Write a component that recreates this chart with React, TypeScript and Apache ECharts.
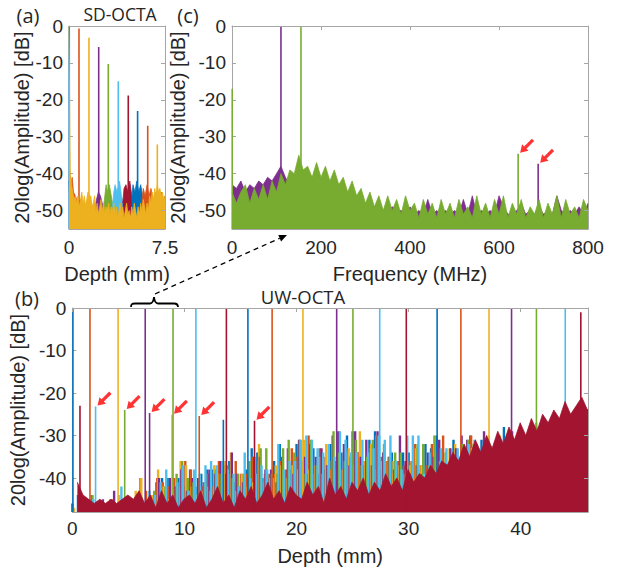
import React, { useEffect, useRef } from "react";
import * as echarts from "echarts";

// ---------- colours (MATLAB default order) ----------
const COL: Record<string, string> = {
  blue: "#0072BD",
  orange: "#D95319",
  yellow: "#EDB120",
  purple: "#7E2F8E",
  green: "#77AC30",
  lightBlue: "#4DBEEE",
  darkRed: "#A2142F",
};
const ORDER = ["blue", "orange", "yellow", "purple", "green", "lightBlue", "darkRed"];

// ---------- panel (a): SD-OCTA ----------
const aXTicks = [0, 7.5];
const aYTicks = [-50, -40, -30, -20, -10, 0];
const aTraceColors = ["blue", "orange", "yellow", "purple", "green", "lightBlue", "darkRed", "blue", "orange", "yellow"];
const aPeakDepth = [0.02, 0.78, 1.56, 2.32, 3.07, 3.85, 4.63, 5.36, 6.15, 6.9];
const aPeakDb = [0, -0.7, -3.2, -5.7, -10.3, -15, -18.8, -23, -27, -32.1];
const aNoiseBlue1 = [[0, -42], [0.05, -46], [0.1, -49], [0.2, -52], [0.3, -55]];
const aNoiseOrange1 = [[0.05, -39], [0.15, -43], [0.25, -41], [0.35, -45], [0.5, -46], [0.7, -48], [0.9, -47], [1.1, -50], [1.3, -55]];
const aNoiseYellow1 = [[1.2, -50], [1.4, -47], [1.5, -45], [1.7, -47], [1.9, -50]];
const aNoisePurple = [[2.0, -50], [2.15, -47], [2.3, -45], [2.45, -46], [2.6, -48], [2.8, -51]];
const aNoiseGreen = [[2.7, -49], [2.8, -46], [2.9, -43], [3.0, -45], [3.15, -43], [3.3, -46], [3.45, -49]];
const aNoiseLightBlue = [[3.4, -49], [3.5, -45], [3.6, -43], [3.75, -45], [3.95, -42], [4.1, -46], [4.3, -49]];
const aNoiseDarkRed = [[4.2, -48], [4.3, -44], [4.45, -43], [4.6, -45], [4.75, -42], [4.9, -46], [5.1, -49]];
const aNoiseBlue2 = [[4.9, -47], [5.0, -43], [5.15, -45], [5.3, -42], [5.45, -45], [5.6, -43], [5.8, -47], [6.0, -50]];
const aNoiseOrange2 = [[5.7, -48], [5.8, -44], [5.95, -46], [6.1, -43], [6.25, -46], [6.4, -44], [6.6, -47], [6.8, -45], [7.0, -48], [7.2, -45], [7.35, -47], [7.5, -46]];
const aGridStep = 0.1;
const aNoiseYellow2Db = [
  0, -40, -43, -45, -47, -46, -48, -46, -49, -47,
  -45, -48, -46, -49, -47, -45, -48, -46, -49, -48,
  -46, -50, -48, -51, -49, -47, -50, -48, -51, -49,
  -50, -48, -51, -49, -50, -48, -51, -49, -52, -50,
  -48, -51, -49, -52, -50, -48, -51, -50, -52, -49,
  -51, -48, -50, -52, -49, -51, -48, -50, -47, -49,
  -51, -48, -50, -46, -48, -45, -47, -44, -46, -43,
  -45, -44, -46, -45, -47, -46,
];

// ---------- panel (c): spectrum ----------
const cXTicks = [0, 200, 400, 600, 800];
const cFreqStep = 10;
const cNoisePurple = [
  -43, -44, -42, -45, -43, -44, -42, -43, -41, -42,
  -40, -38, -41, -43, -42, -40, -41, -43, -42, -44,
  -43, -45, -44, -46, -45, -47, -46, -48, -47, -49,
  -48, -50, -49, -48, -50, -50, -49, -50, -50, -51,
  -49, -51, -50, -51, -47, -51, -50, -51, -50, -51,
  -50, -51, -47, -51, -46, -51, -50, -51, -50, -51,
  -46, -49, -51, -51, -50, -48, -51, -50, -51, -49,
  -51, -50, -51, -46, -50, -51, -50, -51, -49, -51,
  -48,
];
const cNoiseGreen = [
  -45, -48, -45, -43, -48, -44, -47, -43, -47, -42,
  -45, -40, -43, -39, -40, -35, -39, -38, -41, -37,
  -41, -38, -42, -39, -43, -41, -45, -42, -46, -44,
  -48, -45, -49, -46, -50, -46, -50, -47, -51, -46,
  -50, -48, -52, -47, -51, -48, -52, -47, -51, -48,
  -52, -47, -51, -49, -52, -46, -51, -48, -52, -47,
  -51, -46, -52, -48, -51, -47, -52, -49, -51, -47,
  -52, -48, -51, -46, -52, -47, -51, -49, -52, -47,
  -50,
];
const cPeakFreq = [0.5, 110, 155, 643, 688];
const cPeakDb = [-17, 0, 0, -34.6, -37.3];
const cPeakColor = ["green", "purple", "green", "green", "purple"];
const cPeakArrow = [false, false, false, true, true];

// ---------- panel (b): UW-OCTA ----------
const bXTicks = [0, 10, 20, 30, 40];
const bYTicks = [-40, -30, -20, -10, 0];
const bDepthMax = 46;
const bDepthStep = 0.5;
const bNoiseBlue = [
  -46, -44, -48, -45, -48, -48, -46, -48, -47, -45, -46, -48, -48, -46, -48, -41, -40, -40, -45, -40,
  -42, -38, -42, -39, -38, -38, -43, -37, -36, -41, -42, -38, -33, -34, -40, -40, -36, -32, -40, -38,
  -32, -36, -39, -33, -39, -38, -32, -36, -34, -30, -29, -34, -37, -31, -29, -38, -37, -34, -39, -34,
  -34, -35, -39, -32, -33, -30, -37, -38, -31, -36, -34, -30, -35, -31, -37, -35, -30, -28, -36, -37,
  -37, -36, -33, -29, -35, -27, -30, -31, -35, -29, -31, -29, -30,
];
const bNoiseOrange = [
  -48, -44, -48, -46, -48, -46, -48, -45, -48, -46, -46, -48, -40, -43, -44, -40, -41, -42, -40, -42,
  -36, -38, -44, -42, -39, -42, -36, -37, -39, -36, -39, -39, -35, -36, -41, -39, -39, -36, -38, -33,
  -35, -37, -30, -39, -33, -35, -38, -38, -38, -34, -38, -34, -36, -33, -38, -35, -36, -39, -36, -37,
  -36, -32, -37, -37, -32, -34, -30, -37, -36, -36, -33, -30, -32, -34, -32, -34, -32, -35, -33, -37,
  -32, -33, -34, -28, -30, -35, -29, -28, -34, -35, -31, -28, -31,
];
const bNoiseYellow = [
  -47, -44, -48, -46, -46, -48, -48, -48, -44, -45, -48, -43, -40, -48, -44, -38, -42, -45, -45, -36,
  -37, -42, -44, -43, -42, -37, -39, -36, -34, -43, -39, -42, -41, -32, -39, -40, -37, -37, -40, -37,
  -38, -31, -38, -37, -35, -32, -36, -35, -38, -33, -37, -29, -36, -32, -30, -36, -36, -36, -37, -39,
  -37, -33, -37, -39, -39, -35, -37, -33, -32, -37, -35, -33, -34, -36, -30, -33, -30, -33, -32, -31,
  -35, -36, -33, -29, -30, -34, -33, -32, -35, -27, -31, -27, -30,
];
const bNoisePurple = [
  -48, -46, -46, -44, -48, -45, -48, -43, -48, -47, -47, -48, -48, -46, -46, -40, -47, -40, -42, -38,
  -43, -40, -40, -41, -38, -39, -36, -39, -34, -39, -41, -40, -35, -35, -38, -38, -41, -35, -33, -39,
  -31, -35, -32, -35, -33, -37, -30, -29, -32, -37, -29, -35, -31, -37, -29, -34, -35, -38, -30, -36,
  -39, -37, -39, -34, -35, -31, -39, -33, -33, -30, -31, -36, -38, -29, -37, -37, -34, -31, -29, -34,
  -30, -33, -28, -28, -29, -28, -36, -31, -34, -31, -32, -29, -28,
];
const bNoiseGreen = [
  -48, -44, -48, -44, -48, -48, -48, -48, -48, -48, -45, -48, -48, -48, -43, -46, -42, -45, -39, -36,
  -40, -41, -44, -41, -43, -38, -39, -37, -40, -39, -39, -36, -41, -33, -33, -39, -39, -33, -31, -34,
  -31, -39, -31, -37, -39, -37, -29, -34, -36, -35, -31, -37, -35, -31, -30, -32, -35, -34, -34, -38,
  -36, -32, -32, -37, -30, -36, -34, -36, -38, -32, -31, -32, -34, -32, -33, -33, -37, -35, -34, -30,
  -31, -30, -31, -32, -31, -35, -28, -34, -31, -35, -29, -27, -31,
];
const bNoiseLightBlue = [
  -48, -48, -47, -45, -48, -48, -45, -48, -42, -47, -46, -48, -48, -43, -44, -41, -38, -46, -41, -37,
  -43, -38, -39, -37, -36, -37, -36, -38, -39, -42, -34, -40, -39, -37, -38, -40, -32, -38, -36, -36,
  -31, -30, -31, -33, -34, -32, -35, -29, -31, -34, -34, -31, -34, -33, -30, -31, -30, -36, -38, -30,
  -30, -30, -39, -34, -39, -33, -33, -39, -33, -36, -32, -31, -38, -35, -38, -35, -37, -32, -35, -29,
  -33, -34, -27, -32, -35, -33, -31, -32, -30, -29, -27, -31, -32,
];
const bNoiseDarkRed = [
  -41, -44, -45, -46, -45, -46, -45, -46, -45, -44, -45, -43, -46, -44, -47, -43, -46, -44, -47, -45,
  -44, -46, -43, -47, -45, -42, -46, -44, -47, -43, -45, -42, -46, -44, -41, -45, -43, -46, -42, -44,
  -45, -41, -44, -42, -46, -40, -44, -42, -45, -41, -43, -40, -44, -41, -43, -39, -42, -40, -43, -38,
  -41, -39, -40, -37, -39, -36, -37, -34, -36, -32, -35, -31, -34, -30, -33, -29, -32, -28, -31, -27,
  -30, -26, -29, -25, -27, -24, -26, -22, -25, -23, -21, -24, -22,
];
const bPeakDepth = [0.05, 1.57, 4.08, 6.5, 8.98, 11.02, 13.74, 15.66, 17.82, 20.57, 23.58, 25.03, 27.42, 29.79, 32.54, 34.66, 37.17, 39.18, 41.4, 43.97, 45.36];
const bPeakDb = [0, 0, 0, 0, 0, 0, 0, 0, 0, 0, 0, 0, 0, 0, 0, 0, 0, 0, 0, 0, -1];
const bGhostDepth = [0.68, 2.07, 4.67, 6.89, 8.89, 11.32, 13.47, 16.25];
const bGhostDb = [-23, -23.2, -24, -24.7, -25.1, -25.4, -26.3, -26.5];
const bGhostColor = ["darkRed", "lightBlue", "green", "purple", "yellow", "orange", "blue", "darkRed"];
const bGhostArrow = [false, true, true, true, true, true, false, true];
// sub-sample offset (mm) of each trace's samples, so the traces interleave
const bTraceOffset = 0.075;

// ---------- styling ----------
const FONT = "'Liberation Sans', Arial, sans-serif";
const TITLE_FONT = "'Open Sans', 'Liberation Sans', sans-serif";
const TXT = "#262626";
const FRAME = "#a6a6a6";
const ARROW_RED = "#FF0000";
const ARROW_PATH = "path://M0 20 L2.12 10.8 L4.39 13.07 L12.87 4.59 L15.41 7.13 L6.93 15.61 L9.2 17.88 Z";
const BRACE_D = "M0 10 C0 7 1.5 6.5 4 6.5 L19 6.5 C21.5 6.5 22.5 5 23 0 C23.5 5 24.5 6.5 27 6.5 L43 6.5 C45.5 6.5 47 7 47 10";

echarts.graphic.registerShape("brace", echarts.graphic.extendPath(BRACE_D, {}) as any);

const grid = (n: number, step: number, offset = 0) => Array.from({ length: n }, (_, i) => +(i * step + offset).toFixed(4));
const pairs = (xs: number[], ys: number[]) => ys.map((y, i) => [xs[i], y]);
const spikeData = (xs: number[], ys: number[], bottom: number, xMax = Infinity) => {
  const d: any[] = [];
  xs.forEach((x, i) => {
    if (x > xMax) return;
    d.push([x, bottom], [x, ys[i]], [x, "-"]);
  });
  return d;
};

let zCounter = 2;
const nextZ = () => zCounter++;

const noiseSeries = (data: any[], color: string, idx: number) => ({
  type: "line",
  xAxisIndex: idx,
  yAxisIndex: idx,
  data,
  z: nextZ(),
  symbol: "none",
  showSymbol: false,
  silent: true,
  clip: true,
  lineStyle: { color, width: 0.8 },
  itemStyle: { color },
  areaStyle: { color, opacity: 1, origin: "start" },
});
const spikeSeries = (data: any[], color: string, idx: number, width = 1.6) => ({
  type: "line",
  xAxisIndex: idx,
  yAxisIndex: idx,
  data,
  z: nextZ(),
  symbol: "none",
  showSymbol: false,
  silent: true,
  clip: true,
  connectNulls: false,
  lineStyle: { color, width },
  itemStyle: { color },
});
const arrowSeries = (data: any[], idx: number) => ({
  type: "scatter",
  xAxisIndex: idx,
  yAxisIndex: idx,
  data,
  symbol: ARROW_PATH,
  symbolSize: 14,
  symbolOffset: [9, -8],
  silent: true,
  clip: false,
  z: 500,
  itemStyle: { color: ARROW_RED },
});

const xMain = (gridIndex: number, min: number, max: number, ticks: number[], name: string, nameGap: number, margin: number, showTicks = true) => ({
  type: "value", gridIndex, min, max, position: "bottom",
  name, nameLocation: "middle", nameGap,
  nameTextStyle: { fontSize: 20, color: TXT, fontFamily: FONT },
  axisLine: { show: true, onZero: false, lineStyle: { color: FRAME, width: 1 } },
  axisTick: { show: showTicks, inside: true, length: 4, customValues: ticks, lineStyle: { color: FRAME } },
  axisLabel: { show: true, customValues: ticks, fontSize: 19, color: TXT, fontFamily: FONT, margin },
  splitLine: { show: false },
});
const xTop = (gridIndex: number, min: number, max: number, ticks: number[], showTicks = true) => ({
  type: "value", gridIndex, min, max, position: "top",
  axisLine: { show: true, onZero: false, lineStyle: { color: FRAME, width: 1 } },
  axisTick: { show: showTicks, inside: true, length: 4, customValues: ticks, lineStyle: { color: FRAME } },
  axisLabel: { show: false },
  splitLine: { show: false },
  z: 600,
});
const yMain = (gridIndex: number, min: number, ticks: number[], nameGap: number) => ({
  type: "value", gridIndex, min, max: 0, position: "left",
  name: "20log(Amplitude) [dB]", nameLocation: "middle", nameGap, nameRotate: 90,
  nameTextStyle: { fontSize: 20, color: TXT, fontFamily: FONT },
  axisLine: { show: true, onZero: false, lineStyle: { color: FRAME, width: 1 } },
  axisTick: { show: true, inside: true, length: 4, customValues: ticks, lineStyle: { color: FRAME } },
  axisLabel: { show: true, customValues: ticks, fontSize: 19, color: TXT, fontFamily: FONT, margin: 6 },
  splitLine: { show: false },
});
const yRight = (gridIndex: number, min: number, ticks: number[]) => ({
  type: "value", gridIndex, min, max: 0, position: "right",
  axisLine: { show: true, onZero: false, lineStyle: { color: FRAME, width: 1 } },
  axisTick: { show: true, inside: true, length: 4, customValues: ticks, lineStyle: { color: FRAME } },
  axisLabel: { show: false },
  splitLine: { show: false },
  z: 600,
});

function buildOption() {
  zCounter = 2;
  const series: any[] = [];

  // panel (a) -> axes index 0
  const aNoiseList = [aNoiseBlue1, aNoiseOrange1, aNoiseYellow1, aNoisePurple, aNoiseGreen, aNoiseLightBlue, aNoiseDarkRed, aNoiseBlue2, aNoiseOrange2];
  const aYellow2 = pairs(grid(aNoiseYellow2Db.length, aGridStep), aNoiseYellow2Db);
  aTraceColors.forEach((c, i) => {
    const noise = i < aNoiseList.length ? aNoiseList[i] : aYellow2;
    series.push(noiseSeries(noise, COL[c], 0));
    series.push(spikeSeries(spikeData([aPeakDepth[i]], [aPeakDb[i]], -55), COL[c], 0));
  });

  // panel (c) -> axes index 1
  const cx = grid(cNoiseGreen.length, cFreqStep);
  const cSpikes = (color: string) => {
    const xs: number[] = [], ys: number[] = [];
    cPeakColor.forEach((c, i) => { if (c === color) { xs.push(cPeakFreq[i]); ys.push(cPeakDb[i]); } });
    return spikeData(xs, ys, -55);
  };
  series.push(noiseSeries(pairs(cx, cNoisePurple), COL.purple, 1));
  series.push(spikeSeries(cSpikes("purple"), COL.purple, 1));
  series.push(noiseSeries(pairs(cx, cNoiseGreen), COL.green, 1));
  series.push(spikeSeries(cSpikes("green"), COL.green, 1));
  series.push(arrowSeries(cPeakFreq.map((f, i) => [f, cPeakDb[i]]).filter((_, i) => cPeakArrow[i]), 1));

  // panel (b) -> axes index 2
  const bNoise: Record<string, number[]> = {
    blue: bNoiseBlue, orange: bNoiseOrange, yellow: bNoiseYellow, purple: bNoisePurple,
    green: bNoiseGreen, lightBlue: bNoiseLightBlue, darkRed: bNoiseDarkRed,
  };
  const peaksOf = (c: string, k: number) => {
    const xs: number[] = [], ys: number[] = [];
    bPeakDepth.forEach((d, i) => { if (i % 7 === k) { xs.push(d); ys.push(bPeakDb[i]); } });
    bGhostDepth.forEach((d, i) => { if (bGhostColor[i] === c) { xs.push(d); ys.push(bGhostDb[i]); } });
    return [xs, ys];
  };
  // the six first traces: dense interleaved noise columns
  ORDER.slice(0, 6).forEach((c, k) => {
    const xs = grid(bNoise[c].length, bDepthStep, k * bTraceOffset);
    series.push(spikeSeries(spikeData(xs, bNoise[c], -48, bDepthMax - 0.1), COL[c], 2, 2.4));
  });
  ORDER.slice(0, 6).forEach((c, k) => {
    const [xs, ys] = peaksOf(c, k);
    series.push(spikeSeries(spikeData(xs, ys, -48), COL[c], 2));
  });
  // last trace (dark red) drawn on top
  series.push(noiseSeries(pairs(grid(bNoiseDarkRed.length, bDepthStep, 6 * bTraceOffset), bNoiseDarkRed), COL.darkRed, 2));
  {
    const [xs, ys] = peaksOf("darkRed", 6);
    series.push(spikeSeries(spikeData(xs, ys, -48), COL.darkRed, 2));
  }
  series.push(arrowSeries(bGhostDepth.map((d, i) => [d, bGhostDb[i]]).filter((_, i) => bGhostArrow[i]), 2));

  const txt = (text: string, x: number, y: number, size: number) => ({
    type: "text", x, y, silent: true,
    style: { text, fill: TXT, font: `${size}px ${TITLE_FONT}`, textAlign: "center", textVerticalAlign: "middle", align: "center", verticalAlign: "middle" },
  });

  return {
    animation: false,
    grid: [
      { left: 69, top: 26, width: 96, height: 203 },
      { left: 232, top: 26, width: 356, height: 203 },
      { left: 69, top: 308, width: 519, height: 204 },
    ],
    xAxis: [
      xMain(0, 0, 7.5, aXTicks, "Depth (mm)", 35, 9, false),
      xMain(1, 0, 800, cXTicks, "Frequency (MHz)", 35, 9),
      xMain(2, 0, bDepthMax, bXTicks, "Depth (mm)", 34, 7),
      xTop(0, 0, 7.5, aXTicks, false),
      xTop(1, 0, 800, cXTicks),
      xTop(2, 0, bDepthMax, bXTicks),
    ],
    yAxis: [
      yMain(0, -55, aYTicks, 35),
      yMain(1, -55, aYTicks, 31),
      yMain(2, -48, bYTicks, 36),
      yRight(0, -55, aYTicks),
      yRight(1, -55, aYTicks),
      yRight(2, -48, bYTicks),
    ],
    series,
    graphic: [
      txt("(a)", 28, 15, 20),
      txt("SD-OCTA", 120, 14, 17.5),
      txt("(c)", 188, 15, 20),
      txt("(b)", 27, 298, 20),
      txt("UW-OCTA", 303, 296, 18.5),
      { type: "brace", x: 131, y: 297, silent: true, style: { stroke: "#000", fill: "none", lineWidth: 1.8 } },
      { type: "line", silent: true, shape: { x1: 155, y1: 294, x2: 279.7, y2: 238.3 }, style: { stroke: "#000", lineWidth: 1.3, lineDash: [5, 4] } },
      { type: "polygon", silent: true, shape: { points: [[287, 235], [281.1, 241.5], [278.3, 235.1]] }, style: { fill: "#000" } },
    ],
  };
}

export default function App() {
  const ref = useRef<HTMLDivElement>(null);
  useEffect(() => {
    if (!ref.current) return;
    const chart = echarts.init(ref.current, undefined, { renderer: "svg" });
    chart.setOption(buildOption() as any);
    return () => chart.dispose();
  }, []);
  return (
    <div
      ref={ref}
      style={{ position: "absolute", left: 0, top: 0, width: 619, height: 575, background: "#fff" }}
    />
  );
}
